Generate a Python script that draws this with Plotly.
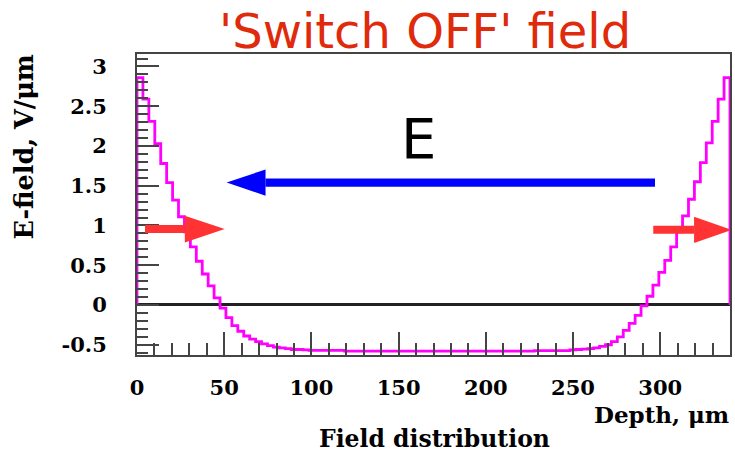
import plotly.graph_objects as go

# ---------------- data ----------------
depth_min = 0.0
depth_max = 340.0
n_bins = 100
bin_width = (depth_max - depth_min) / n_bins

efield = [
    2.86, 2.59, 2.31, 2.03, 1.78, 1.54, 1.32, 1.11, 0.92, 0.73,
    0.55, 0.39, 0.24, 0.09, -0.04, -0.16, -0.26, -0.33, -0.39, -0.43,
    -0.46, -0.49, -0.51, -0.53, -0.54, -0.55, -0.56, -0.56, -0.565, -0.57,
    -0.57, -0.57, -0.57, -0.57, -0.57, -0.58, -0.58, -0.58, -0.58, -0.58,
    -0.58, -0.58, -0.58, -0.58, -0.58, -0.58, -0.58, -0.58, -0.58, -0.58,
    -0.58, -0.58, -0.58, -0.58, -0.58, -0.58, -0.58, -0.58, -0.58, -0.58,
    -0.58, -0.58, -0.58, -0.58, -0.58, -0.58, -0.58, -0.575, -0.575, -0.575,
    -0.575, -0.575, -0.575, -0.565, -0.56, -0.555, -0.55, -0.54, -0.52, -0.50,
    -0.46, -0.40, -0.32, -0.23, -0.13, -0.01, 0.11, 0.25, 0.41, 0.56,
    0.73, 0.92, 1.12, 1.33, 1.55, 1.79, 2.04, 2.31, 2.59, 2.86,
]

x_ticks = [0, 50, 100, 150, 200, 250, 300]
y_ticks = [-0.5, 0, 0.5, 1, 1.5, 2, 2.5, 3]
y_tick_text = ["-0.5", "0", "0.5", "1", "1.5", "2", "2.5", "3"]

title_text = "'Switch OFF' field"
x_title = "Depth, \u03bcm"
y_title = "E-field, V/\u03bcm"
bottom_title = "Field distribution"

# decorative arrows (depth, field units)
blue_arrow = dict(tail=297.0, base=73.7, tip=51.4, y=1.54, half=0.165)
red_arrows = [
    dict(tail=4.6, base=27.4, tip=50.3, y=0.955, half=0.168),
    dict(tail=296.0, base=319.4, tip=341.0, y=0.945, half=0.165),
]

# ---------------- build step outline ----------------
edges = [depth_min + i * bin_width for i in range(n_bins + 1)]
step_x = [edges[0]] + edges[:-1] + [edges[-1], edges[-1]]
step_y = [0.0] + efield + [efield[-1], 0.0]

fig = go.Figure()
fig.add_trace(go.Scatter(
    x=step_x, y=step_y, mode="lines", line_shape="hv",
    line=dict(color="#ff00ff", width=2.8), hoverinfo="skip", showlegend=False,
))

shapes = []


def arrow(a, color, width):
    shapes.append(dict(type="line", xref="x", yref="y", x0=a["tail"], x1=a["base"],
                       y0=a["y"], y1=a["y"], line=dict(color=color, width=width)))
    shapes.append(dict(type="path", xref="x", yref="y",
                       path=f"M {a['tip']},{a['y']} L {a['base']},{a['y'] + a['half']} "
                            f"L {a['base']},{a['y'] - a['half']} Z",
                       fillcolor=color, line=dict(width=0)))


arrow(blue_arrow, "#0000ff", 8.3)
for ra in red_arrows:
    arrow(ra, "#ff3333", 8)

tick_font = dict(family="DejaVu Serif", size=21, color="black", weight="bold")
frame_col = "#444444"

fig.update_layout(
    width=735, height=453,
    margin=dict(l=137, r=3, t=54, b=98),
    paper_bgcolor="white", plot_bgcolor="white",
    shapes=shapes,
    xaxis=dict(
        range=[depth_min, depth_max], showgrid=False, zeroline=False,
        showline=True, linecolor=frame_col, linewidth=2, mirror=True,
        ticks="inside", ticklen=23, tickwidth=1.5, tickcolor=frame_col,
        tickvals=x_ticks, ticktext=[str(v) for v in x_ticks],
        tickfont=tick_font, ticklabelstandoff=13,
        minor=dict(dtick=10, tick0=0, ticks="inside", ticklen=12,
                   tickwidth=1.5, tickcolor=frame_col, showgrid=False),
    ),
    yaxis=dict(
        range=[-0.629, 3.157], showgrid=False,
        zeroline=True, zerolinecolor="#222222", zerolinewidth=2.5,
        showline=True, linecolor=frame_col, linewidth=2, mirror=True,
        ticks="inside", ticklen=22, tickwidth=1.5, tickcolor=frame_col,
        tickvals=y_ticks, ticktext=y_tick_text,
        tickfont=tick_font, ticklabelstandoff=24,
        minor=dict(dtick=0.1, tick0=0, ticks="inside", ticklen=11,
                   tickwidth=1.5, tickcolor=frame_col, showgrid=False),
    ),
    annotations=[
        dict(text=title_text, xref="paper", yref="paper", x=0.485, y=1.0,
             yshift=23, xanchor="center", yanchor="middle", showarrow=False,
             font=dict(family="DejaVu Sans", size=48, color="#e02a0c")),
        dict(text="E", xref="x", yref="y", x=161.5, y=2.1, showarrow=False,
             xanchor="center", yanchor="middle",
             font=dict(family="DejaVu Sans", size=56, color="black")),
        dict(text=x_title, xref="paper", yref="paper", x=1.0, y=0, xshift=1,
             yshift=-59, xanchor="right", yanchor="middle", showarrow=False,
             font=dict(family="DejaVu Serif", size=23, color="black", weight="bold")),
        dict(text=bottom_title, xref="paper", yref="paper", x=0.5, y=0,
             xshift=1, yshift=-84, xanchor="center", yanchor="middle",
             showarrow=False,
             font=dict(family="DejaVu Serif", size=23.5, color="black", weight="bold")),
        dict(text=y_title, xref="paper", yref="paper", x=0, y=1.0,
             xshift=-114, yshift=1, xanchor="center", yanchor="top",
             textangle=-90, showarrow=False,
             font=dict(family="DejaVu Serif", size=25.5, color="black", weight="bold")),
    ],
)

fig.write_html("out.html")
